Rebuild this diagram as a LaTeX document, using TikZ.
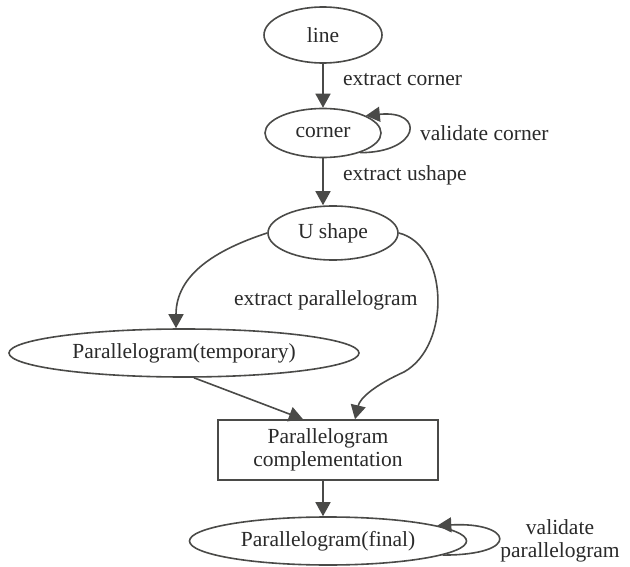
\documentclass[tikz,border=0pt]{standalone}
\usepackage{fontspec}
\setmainfont{Liberation Serif}
\usetikzlibrary{shapes.geometric,arrows.meta}
\definecolor{ink}{HTML}{4A4A48}
\definecolor{txt}{HTML}{2A2A2A}
\begin{document}
\begin{tikzpicture}[x=1pt,y=-1pt,
  every node/.style={text=txt, font=\fontsize{21.5}{23}\selectfont},
  ell/.style={draw=ink, line width=1.6pt, ellipse, inner sep=0pt},
  boxnode/.style={draw=ink, line width=1.6pt, rectangle, inner sep=0pt, minimum width=220pt, minimum height=60pt, align=center},
  arr/.style={draw=ink, line width=1.6pt, -{Triangle[length=14pt,width=15pt]}},
  lbl/.style={inner sep=0pt}]
\useasboundingbox (0,0) rectangle (630,567);
\fill[white] (0,0) rectangle (630,567);
% nodes
\node[ell, minimum width=118pt, minimum height=56pt] (line) at (323,35) {line};
\node[ell, minimum width=116pt, minimum height=49pt] (corner) at (323,133) {corner};
\node[ell, minimum width=130pt, minimum height=54pt] (ushape) at (333,233) {U shape};
\node[ell, minimum width=350pt, minimum height=48pt] (temp) at (184,353) {Parallelogram(temporary)};
\node[boxnode] (box) at (328,450) {Parallelogram\\complementation};
\node[ell, minimum width=277pt, minimum height=48pt] (final) at (328,541) {Parallelogram(final)};
% labels
\node[lbl, anchor=west] (lc) at (343,80) {extract corner};
\node[lbl, anchor=west] (lv) at (420,133) {validate corner};
\node[lbl, anchor=west] (lu) at (343,175) {extract ushape};
\node[lbl, anchor=west] (lp) at (234,300) {extract parallelogram};
\node[lbl, align=center] (lvp) at (560,541) {validate\\parallelogram};
% edges
\draw[arr] (line.south) -- (corner.north);
\draw[arr] (corner.-28) .. controls +(60,0) and +(60,-6) .. (corner.22);
\draw[arr] (corner.south) -- (corner.south |- ushape.north);
\draw[arr] (ushape.west) .. controls (215,250) and (176,275) .. ([xshift=-8pt]temp.north);
\draw[arr] (ushape.east) .. controls (448,245) and (452,345) .. (404,372)
  .. controls (375,385) and (360,398) .. ([xshift=27pt]box.north);
\draw[arr] ([xshift=10pt]temp.south) -- ([xshift=-25pt]box.north);
\draw[arr] ([xshift=-5pt]box.south) -- ([xshift=-5pt]box.south |- final.north);
\draw[arr] (final.-7) .. controls +(80,0) and +(75,-4) .. (final.8);
\end{tikzpicture}
\end{document}
